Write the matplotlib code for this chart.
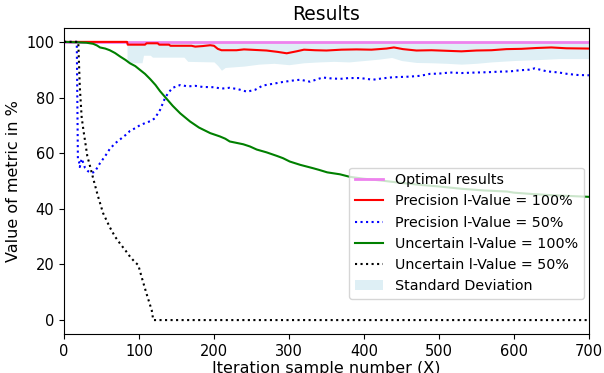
import numpy as np
import matplotlib
matplotlib.use("Agg")
import matplotlib.pyplot as plt

# ---- data ----
optimal_x = [0, 700]
optimal_y = [100, 100]

prec100_x = [0, 84, 85, 108, 110, 125, 127, 140, 142, 170, 175, 185, 195, 200, 205, 210, 230, 240, 255, 270,
             285, 297, 310, 320, 335, 350, 370, 390, 410, 430, 440, 452, 470, 490, 510, 530, 550, 570, 590, 610,
             630, 650, 670, 700]
prec100_y = [100, 100, 99, 99, 99.5, 99.5, 99, 99, 98.6, 98.6, 98.3, 98.5, 98.8, 98.6, 97.5, 97, 97, 97.3, 97.1, 96.9,
             96.4, 95.9, 96.6, 97.2, 97, 96.9, 97.2, 97.3, 97.2, 97.6, 98, 97.4, 96.9, 97, 96.8, 96.6, 96.9, 97, 97.4, 97.5,
             97.8, 98, 97.7, 97.6]

std_x = [84, 104, 106, 115, 118, 160, 165, 200, 205, 210, 215, 240, 260, 280, 300, 320, 340, 360, 380, 400,
         420, 437, 450, 470, 490, 510, 530, 550, 570, 600, 630, 660, 700]
std_low = [92.5, 92.5, 95.2, 95.2, 94.5, 94.5, 93, 92.8, 91.5, 89.8, 90.8, 91.3, 92, 92.3, 91.8, 92.5, 92.8, 93, 92.8, 93.3,
           93.8, 94.4, 93.3, 92.6, 92.5, 92.3, 92, 92.3, 92.8, 93.3, 93.6, 94, 94]
std_high = [100] * len(std_x)

prec50_x = [0, 17, 18.5, 20, 21, 23.5, 25, 28, 32, 37, 41, 48, 55, 61, 68, 75, 82, 88, 95, 101, 108, 115, 121, 128,
            135, 140, 145, 155, 165, 175, 185, 200, 210, 221, 232, 244, 255, 265, 280, 292, 305, 315, 328, 345, 355,
            368, 380, 395, 412, 425, 439, 460, 475, 488, 500, 515, 530, 551, 565, 581, 595, 608, 620, 628, 635, 644,
            660, 671, 685, 700]
prec50_y = [100, 100, 58, 57, 55, 58, 57, 54.7, 53.5, 52.9, 53.3, 56.4, 59, 61.5, 63.5, 65, 66.5, 68, 69, 70, 70.8, 71.5,
            72.5, 75.5, 80, 82, 83.5, 84.5, 84, 84.2, 83.8, 83.7, 83.2, 83.5, 83, 82.1, 82.8, 84.3, 85, 85.6, 86.1, 86.4,
            85.7, 87.2, 86.9, 86.7, 87, 87, 86.4, 86.9, 87.3, 87.5, 87.8, 88.5, 88.6, 89, 88.8, 89, 89.1, 89.3, 89.4,
            89.8, 90, 90.5, 90, 89.4, 89, 88.5, 88.1, 88]

unc100_x = [0, 21, 30, 39, 44, 48, 55, 61, 68, 75, 82, 88, 95, 101, 108, 115, 122, 128, 136, 145, 155, 168, 180, 195,
            208, 215, 221, 230, 239, 248, 257, 270, 284, 292, 301, 315, 332, 340, 351, 368, 381, 400, 425, 450, 475,
            501, 530, 560, 591, 600, 610, 625, 650, 675, 700]
unc100_y = [100, 99.8, 99.7, 99.3, 98.7, 98, 97.6, 97, 96, 94.7, 93.5, 92.3, 91.3, 90, 88.5, 86.6, 84.5, 82.3, 79.8, 77,
            74.3, 71.4, 69.2, 67.2, 66, 65.2, 64.2, 63.7, 63.2, 62.4, 61.3, 60.3, 59, 58.2, 57, 55.8, 54.6, 54, 53.1,
            52.4, 51.5, 50.8, 50.1, 49.3, 48.6, 48, 47.2, 46.6, 46.2, 45.8, 45.6, 45.3, 44.9, 44.6, 44.3]

unc50_x = [0, 19, 21, 23.5, 26, 28, 31, 35, 39, 45, 52, 61, 68, 75, 82, 88, 95, 99, 104, 110, 117, 119, 700]
unc50_y = [100, 100, 84, 73, 68, 64.5, 59, 55, 50.8, 44.8, 38.5, 33.4, 30, 27.4, 25, 22.8, 20.7, 19.8, 15, 9.5, 3.5, 0, 0]

x_ticks = [0, 100, 200, 300, 400, 500, 600, 700]
y_ticks = [0, 20, 40, 60, 80, 100]

# ---- figure ----
fig = plt.figure(figsize=(6.04, 3.73), dpi=100)
ax = fig.add_axes([0.106, 0.1046, 0.869, 0.8204])

ax.plot(optimal_x, optimal_y, color='violet', lw=2, label='Optimal results')
ax.plot(prec100_x, prec100_y, color='red', lw=1.5, label='Precision l-Value = 100%')
ax.plot(prec50_x, prec50_y, color='blue', ls=':', lw=1.5, label='Precision l-Value = 50%')
ax.plot(unc100_x, unc100_y, color='green', lw=1.5, label='Uncertain l-Value = 100%')
ax.plot(unc50_x, unc50_y, color='black', ls=':', lw=1.5, label='Uncertain l-Value = 50%')
ax.fill_between(std_x, std_low, std_high, color='lightblue', alpha=0.4, lw=0, label='Standard Deviation')

ax.set_xlim(0, 700)
ax.set_ylim(-5, 105)
ax.set_xticks(x_ticks)
ax.set_yticks(y_ticks)
ax.tick_params(labelsize=10.5)
ax.set_title('Results', fontsize=13.5)
ax.set_xlabel('Iteration sample number (X)', fontsize=11.5, labelpad=2)
ax.set_ylabel('Value of metric in %', fontsize=11.5)

ax.legend(loc='lower right', bbox_to_anchor=(0.99, 0.115), fontsize=10.3, borderaxespad=0,
          handlelength=2, labelspacing=0.5)

fig.savefig('out.png', dpi=100)
